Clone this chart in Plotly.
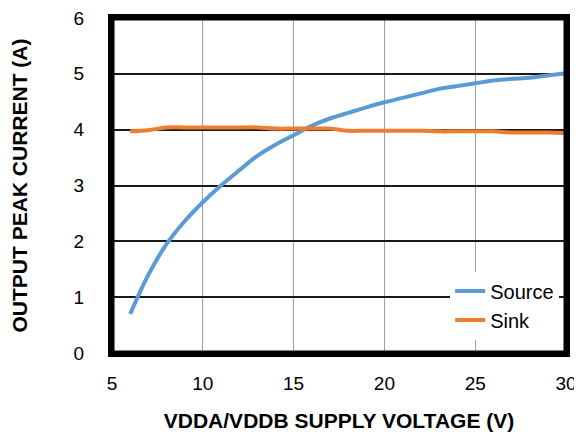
import plotly.graph_objects as go

voltage = [6, 7, 8, 9, 10, 11, 12, 13, 14, 15, 16, 17, 18, 19, 20, 21, 22, 23, 24, 25, 26, 27, 28, 29, 30]
source_current = [0.70, 1.40, 1.95, 2.36, 2.70, 3.00, 3.27, 3.53, 3.73, 3.90, 4.07, 4.20, 4.30, 4.40, 4.49,
                  4.57, 4.65, 4.73, 4.78, 4.83, 4.88, 4.91, 4.93, 4.97, 5.01]
sink_current = [3.97, 3.99, 4.04, 4.04, 4.04, 4.04, 4.04, 4.04, 4.02, 4.02, 4.02, 4.02, 3.98, 3.98, 3.98,
                3.98, 3.98, 3.97, 3.97, 3.97, 3.97, 3.95, 3.95, 3.95, 3.94]

fig = go.Figure()
fig.add_trace(go.Scatter(x=voltage, y=source_current, mode="lines", name="Source",
                         line=dict(color="#5B9BD5", width=4, shape="spline")))
fig.add_trace(go.Scatter(x=voltage, y=sink_current, mode="lines", name="Sink",
                         line=dict(color="#ED7D31", width=4, shape="spline")))

# black frame round the plot, one side at a time
for x0, y0, x1, y1 in [(0, 1, 1, 1), (1, 0, 1, 1), (0, 0, 1, 0), (0, 0, 0, 1)]:
    fig.add_shape(type="line", xref="paper", yref="paper", x0=x0, y0=y0, x1=x1, y1=y1,
                  line=dict(color="#000000", width=5), layer="above")

font = "Liberation Sans, Arial, sans-serif"
# the page body adds an 8px margin round the figure
fig.update_layout(
    width=574,
    height=424,
    margin=dict(l=104, r=16, t=10, b=79),
    plot_bgcolor="white",
    paper_bgcolor="white",
    font=dict(family=font, size=19, color="black"),
    legend=dict(x=0.985, y=0.04, xanchor="right", yanchor="bottom",
                bgcolor="white", font=dict(size=20), tracegroupgap=0),
    xaxis=dict(
        range=[5, 30], dtick=5, tick0=5,
        showgrid=True, gridcolor="#a0a0a0", gridwidth=1.3,
        showline=True, linecolor="black", linewidth=4, mirror=True,
        zeroline=False, ticks="",
        ticklabelstandoff=10, ticklabeloverflow="allow",
        title=dict(text="<b>VDDA/VDDB SUPPLY VOLTAGE (V)</b>", standoff=38,
                   font=dict(size=21)),
        automargin=False,
    ),
    yaxis=dict(
        range=[0, 6], dtick=1,
        showgrid=True, gridcolor="#1a1a1a", gridwidth=1.5,
        showline=True, linecolor="black", linewidth=4, mirror=True,
        zeroline=False, ticks="",
        ticklabelstandoff=20, ticklabeloverflow="allow",
        title=dict(text="<b>OUTPUT PEAK CURRENT (A)</b>", standoff=48,
                   font=dict(size=21)),
        automargin=False,
    ),
)

fig.write_html("out.html")
